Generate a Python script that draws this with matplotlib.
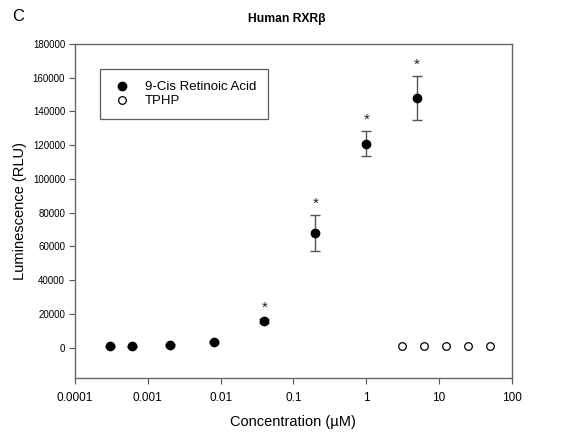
import matplotlib
matplotlib.use('Agg')
import matplotlib.pyplot as plt
from matplotlib.lines import Line2D
from matplotlib.ticker import FixedLocator, FixedFormatter

plt.rcParams['font.family'] = ['Liberation Sans', 'DejaVu Sans']

# 9-cis retinoic acid
ra_conc = [0.0003, 0.0006, 0.002, 0.008, 0.04, 0.2, 1, 5]
ra_rlu = [800, 800, 1500, 3200, 16000, 68000, 121000, 148000]
ra_err = [400, 400, 500, 600, 1200, 10500, 7400, 13300]
ra_star = [False, False, False, False, True, True, True, True]

# TPHP
tphp_conc = [3.125, 6.25, 12.5, 25, 50]
tphp_rlu = [800, 800, 800, 700, 800]

xticks = [0.0001, 0.001, 0.01, 0.1, 1, 10, 100]
xlabels = ['0.0001', '0.001', '0.01', '0.1', '1', '10', '100']
yticks = [0, 20000, 40000, 60000, 80000, 100000, 120000, 140000, 160000, 180000]

fig = plt.figure(figsize=(5.67, 4.4), dpi=100)
ax = fig.add_axes([0.132, 0.141, 0.771, 0.759])

ax.errorbar(ra_conc, ra_rlu, yerr=ra_err, fmt='o', color='black', ms=6,
            ecolor='#555555', elinewidth=1, capsize=3.5, capthick=1, zorder=3)
ax.plot(tphp_conc, tphp_rlu, 'o', mfc='white', mec='black', ms=5.5, mew=0.9, zorder=3)

for x, y, e, s in zip(ra_conc, ra_rlu, ra_err, ra_star):
    if s:
        ax.annotate('*', (x, y + e), xytext=(0, 3), textcoords='offset points',
                    ha='center', va='bottom', fontsize=11, color='#222222')

ax.set_xscale('log')
ax.set_xlim(0.0001, 100)
ax.set_ylim(-18000, 180000)
ax.xaxis.set_major_locator(FixedLocator(xticks))
ax.xaxis.set_major_formatter(FixedFormatter(xlabels))
ax.xaxis.set_minor_locator(FixedLocator([]))
ax.set_yticks(yticks)
ax.set_yticklabels([str(v) for v in yticks])

ax.tick_params(axis='x', labelsize=8.5, direction='out', length=4, color='#555555', pad=6)
ax.tick_params(axis='y', labelsize=7, direction='out', length=4, color='#555555', pad=3)
for sp in ax.spines.values():
    sp.set_color('#666666')
    sp.set_linewidth(1)

ax.set_xlabel('Concentration (µM)', fontsize=10.5, labelpad=8)
ax.set_ylabel('Luminescence (RLU)', fontsize=10.5, labelpad=4)

fig.text(0.506, 0.957, 'Human RXRβ', ha='center', va='center', fontsize=8.7, fontweight='bold')
fig.text(0.022, 0.962, 'C', ha='left', va='center', fontsize=12)

handles = [
    Line2D([], [], ls='none', marker='o', color='black', ms=6),
    Line2D([], [], ls='none', marker='o', mfc='white', mec='black', ms=5.5, mew=0.9),
]
leg = ax.legend(handles, ['9-Cis Retinoic Acid', 'TPHP'], loc='upper left',
                bbox_to_anchor=(0.057, 0.925), fontsize=9.5,
                frameon=True, fancybox=False, edgecolor='#333333', handletextpad=1.0,
                borderpad=0.9, labelspacing=0.15, handlelength=1.5, borderaxespad=0)
leg.get_frame().set_linewidth(0.9)

fig.savefig('out.png', dpi=100)
